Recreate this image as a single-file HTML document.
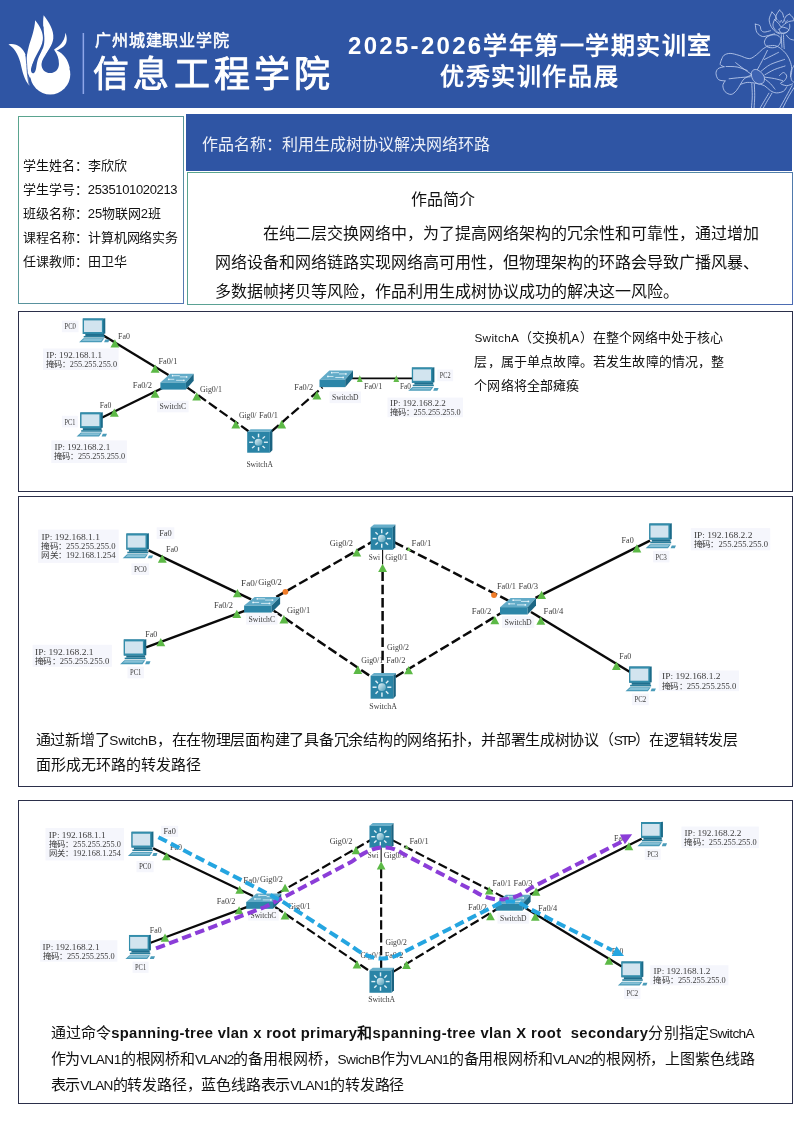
<!DOCTYPE html>
<html lang="zh-CN">
<head>
<meta charset="utf-8">
<title>优秀实训作品展</title>
<style>
*{margin:0;padding:0;box-sizing:border-box}
html,body{width:794px;height:1123px;background:#fff;overflow:hidden}
body{position:relative;font-family:"Liberation Sans",sans-serif;color:#111;will-change:transform}
.abs{position:absolute}
.hdr{left:0;top:0;width:794px;height:108px;background:#2f55a4}
.t{position:absolute;white-space:nowrap;line-height:1;}
.box{position:absolute;border:1px solid #2b2f4a;background:#fff}
.info{left:18px;top:116px;width:166px;height:188px;border:1px solid #5ba993;border-image:linear-gradient(135deg,#5aa58e 0%,#5a9a98 45%,#5577b2 100%) 1;background:#fff}
.title{left:186px;top:114px;width:606px;height:57px;background:#2f55a4}
.intro{left:187px;top:172px;width:606px;height:133px;border:1px solid #5ba99b;border-image:linear-gradient(135deg,#5aa58e 0%,#5a9c9c 50%,#4c6bb3 100%) 1;background:#fff}
svg{position:absolute;left:0;top:0}
</style>
</head>
<body>
<div class="abs hdr"></div>
<div class="abs info"></div>
<div class="abs title"></div>
<div class="abs intro"></div>
<div class="box" style="left:18px;top:311px;width:775px;height:181px"></div>
<div class="box" style="left:18px;top:496px;width:775px;height:291px"></div>
<div class="box" style="left:18px;top:800px;width:775px;height:304px"></div>
<div class="t" style="left:95px;top:33.0px;font-size:16px;color:#fff;font-weight:normal;letter-spacing:0.85px;-webkit-text-stroke:0.55px #fff;">广州城建职业学院</div>
<div class="t" style="left:93.2px;top:57px;font-size:36px;color:#fff;font-weight:normal;letter-spacing:4.2px;-webkit-text-stroke:0.9px #fff;">信息工程学院</div>
<div class="t" style="left:348px;top:33.5px;font-size:24px;color:#fff;font-weight:bold;letter-spacing:1.5px;"><span style="letter-spacing:2.3px">2025-2026</span>学年第一学期实训室</div>
<div class="t" style="left:440px;top:64.5px;font-size:24px;color:#fff;font-weight:bold;letter-spacing:1.6px;">优秀实训作品展</div>
<div class="t" style="left:23.2px;top:158.5px;font-size:13px;color:#111;font-weight:normal;letter-spacing:-0.08px;">学生姓名：李欣欣</div>
<div class="t" style="left:23.2px;top:182.5px;font-size:13px;color:#111;font-weight:normal;letter-spacing:-0.08px;">学生学号：<span style="letter-spacing:-0.35px">2535101020213</span></div>
<div class="t" style="left:23.2px;top:206.5px;font-size:13px;color:#111;font-weight:normal;letter-spacing:-0.08px;">班级名称：25物联网2班</div>
<div class="t" style="left:23.2px;top:230.5px;font-size:13px;color:#111;font-weight:normal;letter-spacing:-0.08px;">课程名称：计算机网络实务</div>
<div class="t" style="left:23.2px;top:254.5px;font-size:13px;color:#111;font-weight:normal;letter-spacing:-0.08px;">任课教师：田卫华</div>
<div class="t" style="left:202px;top:137px;font-size:16px;color:#eef1f8;font-weight:normal;">作品名称：利用生成树协议解决网络环路</div>
<div class="t" style="left:411px;top:192px;font-size:16px;color:#111;font-weight:normal;">作品简介</div>
<div class="t" style="left:263.3px;top:225.5px;font-size:16px;color:#111;font-weight:normal;">在纯二层交换网络中，为了提高网络架构的冗余性和可靠性，通过增加</div>
<div class="t" style="left:215px;top:255px;font-size:16px;color:#111;font-weight:normal;">网络设备和网络链路实现网络高可用性，但物理架构的环路会导致广播风暴、</div>
<div class="t" style="left:215px;top:284.4px;font-size:16px;color:#111;font-weight:normal;">多数据帧拷贝等风险，作品利用生成树协议成功的解决这一风险。</div>
<div class="t" style="left:474.4px;top:330.7px;font-size:13px;color:#111;font-weight:normal;letter-spacing:0.02px;"><span style="font-size:11.83px;letter-spacing:0.30px;">SwitchA</span>（交换机<span style="font-size:11.83px;letter-spacing:0.31px;">A</span>）在整个网络中处于核心</div>
<div class="t" style="left:474.4px;top:354.9px;font-size:13px;color:#111;font-weight:normal;letter-spacing:0.17px;">层，属于单点故障。若发生故障的情况，整</div>
<div class="t" style="left:474.4px;top:378.5px;font-size:13px;color:#111;font-weight:normal;letter-spacing:0.09px;">个网络将全部瘫痪</div>
<div class="t" style="left:35.6px;top:731.5px;font-size:15px;color:#111;font-weight:normal;letter-spacing:-0.26px;">通过新增了<span style="font-size:13.65px;letter-spacing:-0.26px;">SwitchB</span>，在在物理层面构建了具备冗余结构的网络拓扑，并部署生成树协议（<span style="font-size:13.65px;letter-spacing:-1.85px;">STP</span>）在逻辑转发层</div>
<div class="t" style="left:35.6px;top:757.3px;font-size:15px;color:#111;font-weight:normal;letter-spacing:0.02px;">面形成无环路的转发路径</div>
<div class="t" style="left:50.6px;top:1024.9px;font-size:15px;color:#111;font-weight:normal;letter-spacing:0.14px;">通过命令<span style="font-size:14.78px;letter-spacing:0.35px;font-weight:bold;">spanning-tree vlan x root primary</span><b>和</b><span style="font-size:14.78px;letter-spacing:0.44px;font-weight:bold;">spanning-tree vlan X root &nbsp;secondary</span>分别指定<span style="font-size:13.65px;letter-spacing:-0.60px;">SwitchA</span></div>
<div class="t" style="left:50.6px;top:1050.5px;font-size:15px;color:#111;font-weight:normal;letter-spacing:-0.15px;">作为<span style="font-size:13.65px;letter-spacing:-0.57px;">VLAN1</span>的根网桥和<span style="font-size:13.65px;letter-spacing:-0.95px;">VLAN2</span>的备用根网桥，<span style="font-size:13.65px;letter-spacing:-0.47px;">SwichB</span>作为<span style="font-size:13.65px;letter-spacing:-0.85px;">VLAN1</span>的备用根网桥和<span style="font-size:13.65px;letter-spacing:-0.97px;">VLAN2</span>的根网桥，上图紫色线路</div>
<div class="t" style="left:50.6px;top:1077.1px;font-size:15px;color:#111;font-weight:normal;letter-spacing:-0.21px;">表示<span style="font-size:13.65px;letter-spacing:-0.79px;">VLAN</span>的转发路径，蓝色线路表示<span style="font-size:13.65px;letter-spacing:-0.65px;">VLAN1</span>的转发路径</div>
<svg width="794" height="1123" viewBox="0 0 794 1123" font-family="Liberation Serif, serif" fill="#3c3c3c">
<defs>
<linearGradient id="gball" x1="0" y1="0" x2="1" y2="1"><stop offset="0" stop-color="#e4f3f8"/><stop offset="1" stop-color="#4f9db8"/></linearGradient>
<g id="pc">
<polygon points="3.7,0.2 24.2,0.2 26.2,0 26.2,16.6 24.2,17 3.7,17" fill="#1b6b89"/>
<polygon points="3.7,0.2 24.2,0.2 24.2,17 3.7,17" fill="#338dab"/>
<rect x="4.9" y="2.3" width="17.9" height="12.6" fill="#d2e4ef"/>
<rect x="6.2" y="17" width="18.8" height="2.2" fill="#1f6f8e"/><rect x="4.6" y="19.2" width="21" height="1.7" fill="#2a7f9d"/>
<polygon points="0,26 4.3,21.8 25.2,21.8 22.4,26" fill="#4a9bb9"/>
<polygon points="2.6,24.6 5,22.5 23.6,22.5 22,24.6" fill="#86c0d6"/>
<polygon points="26.2,23 30.4,23 29.2,26 25,26" fill="#4a9bb9"/>
</g>
<g id="sw">
<polygon points="0,8.8 10.6,0 36,0 27.6,8.8" fill="#62abc8"/>
<polygon points="0,8.8 27.6,8.8 27.6,15.9 0,15.9" fill="#2c86a8"/>
<polygon points="27.6,8.8 36,0 36,7.1 27.6,15.9" fill="#1c6785"/>
<path d="M9,5.6 L15,5.6 M14,2 L21,2 M17,6.6 L25,6.6 M21,3.2 L28,3.2" stroke="#d9eef6" stroke-width="0.9" fill="none"/>
<circle cx="9" cy="5.6" r="0.9" fill="#eaf6fb"/><circle cx="13.2" cy="2" r="0.9" fill="#eaf6fb"/><circle cx="25.4" cy="6.6" r="0.9" fill="#eaf6fb"/><circle cx="28.4" cy="3.2" r="0.9" fill="#eaf6fb"/>
</g>
<g id="l3">
<polygon points="0,2.7 3.4,0 25,0 22.5,2.7" fill="#66aeca"/>
<polygon points="22.5,2.7 25,0 25,22.8 22.5,25.4" fill="#1b6381"/>
<rect x="0" y="2.7" width="22.5" height="22.7" fill="#2a84a6"/>
<g stroke="#e3f2f8" stroke-width="1.45">
<line x1="16.55" y1="14.05" x2="20.55" y2="14.05"/>
<line x1="15.21" y1="18.01" x2="17.61" y2="20.41"/>
<line x1="11.25" y1="19.35" x2="11.25" y2="23.35"/>
<line x1="7.29" y1="18.01" x2="4.89" y2="20.41"/>
<line x1="5.95" y1="14.05" x2="1.95" y2="14.05"/>
<line x1="7.29" y1="10.09" x2="4.89" y2="7.69"/>
<line x1="11.25" y1="8.75" x2="11.25" y2="4.75"/>
<line x1="15.21" y1="10.09" x2="17.61" y2="7.69"/>
</g>
<circle cx="11.25" cy="14.05" r="3.8" fill="url(#gball)"/>
</g>
<polygon id="tri" points="0,-4.2 4.45,4.1 -4.45,4.1" fill="#5cb946"/>
<polygon id="tris" points="0,-3.4 2.9,3.3 -2.9,3.3" fill="#63bb4b"/>
<polygon id="trit" points="0,-2.2 2.2,1.9 -2.2,1.9" fill="#74c25a"/>
</defs>
<g transform="translate(0,5) scale(0.11338)">
<circle cx="443" cy="612" r="177" fill="#fff"/>
<path d="M262,640 C226,560 226,470 253,370 C273,300 306,220 310,135 C352,185 386,250 378,312 C368,382 305,450 282,540 L300,640 Z" fill="#fff"/>
<path d="M300,620 C300,520 340,450 372,395 C400,345 392,280 384,220 C378,170 380,120 385,90 C430,150 478,220 470,295 C463,355 420,405 392,460 C372,500 364,540 366,600 Z" fill="#fff"/>
<path d="M476,394 C520,362 568,335 578,245 C598,300 590,345 558,368 C535,385 515,395 500,402 C560,430 600,480 616,560 L500,560 Z" fill="#fff"/>
<path d="M75,348 C135,332 205,372 228,445 C243,505 236,600 262,716 C212,660 196,580 180,510 C160,430 120,372 75,348 Z" fill="#fff"/>
<!-- holes -->
<path d="M442,600 C395,600 364,565 366,520 C368,485 395,450 420,415 L452,370 L480,398 C505,430 520,470 520,520 C520,565 490,600 442,600 Z" fill="#2f55a4"/>
<path d="M383,190 C380,260 398,300 358,395" fill="none" stroke="#2f55a4" stroke-width="5"/>
<path d="M352,400 C325,460 286,510 274,560 C268,598 288,610 302,598 C320,585 318,545 330,495 C336,465 352,440 366,405 Z" fill="#2f55a4"/>
<path d="M226,440 C240,505 232,600 260,716" fill="none" stroke="#2f55a4" stroke-width="7"/>
</g>
<rect x="82.6" y="33" width="1.5" height="61" fill="#8ea6e8"/>
<g transform="translate(714,0) scale(0.10076)" fill="none" stroke="#cdd9f5" stroke-width="8.5" stroke-linecap="round" stroke-linejoin="round" opacity="0.9">
<path d="M75,590 C79,583 86,558 100,548 C114,538 135,530 160,530 C185,530 218,541 250,550 C282,559 322,583 350,582 C378,581 398,560 420,545 C442,530 462,504 480,490 C498,476 522,463 530,458"/>
<path d="M75,590 C73,598 58,628 62,640 C66,652 94,658 100,662"/>
<path d="M100,662 C90,665 53,671 40,682 C27,693 19,712 20,730 C21,748 30,778 45,790 C60,802 99,801 110,803"/>
<path d="M110,803 C106,811 88,832 88,850 C88,868 96,896 110,910 C124,924 151,939 170,937 C189,935 207,916 222,900 C237,884 249,858 262,838 C275,818 282,798 300,782 C318,766 357,751 368,745"/>
<path d="M262,838 C273,835 304,820 330,818 C356,816 392,823 420,828 C448,833 477,838 500,850 C523,862 540,888 560,900 C580,912 598,921 620,922 C642,923 673,915 690,905 C707,895 717,869 722,862"/>
<path d="M530,458 C542,457 578,448 600,452 C622,456 640,465 660,480 C680,495 703,517 720,540 C737,563 751,593 760,620 C769,647 772,677 772,700 C772,723 762,750 760,760"/>
<path d="M430,692 C438,677 463,632 480,600 C497,568 522,517 530,500"/>
<path d="M500,590 C515,582 567,557 590,545 C613,533 632,524 640,520"/>
<path d="M470,705 C485,694 522,659 560,640 C598,621 677,598 700,590"/>
<path d="M505,742 C521,733 567,704 600,690 C633,676 688,661 705,655"/>
<path d="M500,780 C510,788 542,812 560,830 C578,848 598,876 605,885"/>
<path d="M500,765 C517,768 570,774 600,780 C630,786 667,797 680,800"/>
<path d="M368,735 C355,726 316,699 290,680 C264,661 228,632 215,622"/>
<path d="M360,762 C343,763 295,767 260,770 C225,773 168,780 150,782"/>
<path d="M330,700 C313,694 265,672 230,665 C195,658 138,661 120,660"/>
<path d="M375,830 C376,850 380,910 380,950 C380,990 373,1048 372,1068"/>
<path d="M400,835 C401,854 404,911 404,950 C404,989 399,1048 398,1068"/>
<path d="M545,925 C538,938 514,976 500,1000 C486,1024 467,1057 460,1068"/>
<path d="M575,925 C568,938 544,976 530,1000 C516,1024 498,1057 492,1068"/>
<path d="M775,850 C765,868 735,924 715,960 C695,996 665,1050 655,1068"/>
<path d="M794,870 C785,885 758,927 740,960 C722,993 694,1050 685,1068"/>
<path d="M668,345 C668,354 669,379 670,400 C671,421 673,458 674,470"/>
<path d="M690,345 C690,356 691,387 692,410 C693,433 696,470 697,482"/>
<path d="M575,120 C570,132 550,167 548,190 C546,213 555,239 565,260 C575,281 596,302 610,315 C624,328 643,332 650,335"/>
<path d="M575,120 C580,125 597,138 605,150 C613,162 622,188 625,195"/>
<path d="M650,100 C645,108 624,133 618,150 C612,167 613,192 612,200"/>
<path d="M650,100 C655,105 673,118 680,130 C687,142 688,163 690,170"/>
<path d="M750,140 C744,143 724,150 715,160 C706,170 698,193 695,200"/>
<path d="M750,140 C755,145 773,160 780,170 C787,180 792,195 794,200"/>
<path d="M600,195 C598,204 583,232 585,250 C587,268 598,287 610,300 C622,313 642,327 660,330 C678,333 705,328 720,320 C735,312 745,293 750,280 C755,267 750,247 750,240"/>
<path d="M600,195 C607,201 629,218 640,230 C651,242 655,263 665,265 C675,267 688,248 700,240 C712,232 724,221 740,215 C756,209 785,207 794,205"/>
<path d="M645,290 C651,287 666,271 680,270 C694,269 720,279 730,285 C740,291 745,298 740,305 C735,312 713,327 700,330 C687,333 669,329 660,322 C651,315 648,295 645,290"/>
<path d="M720,350 C725,356 738,377 750,385 C762,393 787,396 794,398"/>
<path d="M410,240 C412,253 413,300 425,320 C437,340 461,357 480,362 C499,367 520,356 540,352 C560,348 590,338 600,335"/>
<path d="M410,240 C418,242 445,245 455,255 C465,265 460,290 468,300 C476,310 485,317 500,318 C515,319 550,307 560,305"/>
<path d="M520,372 C517,380 498,404 500,420 C502,436 513,456 530,465 C547,474 580,476 600,472 C620,468 640,455 650,440 C660,425 667,398 662,382 C657,366 637,352 620,347 C603,342 577,346 560,350 C543,354 527,368 520,372"/>
<path d="M794,650 C789,661 766,692 762,715 C758,738 763,773 768,790 C773,807 790,813 794,818"/>
<path d="M650,750 C657,745 678,719 690,720 C702,721 720,742 722,755 C724,768 710,788 700,800 C690,812 657,820 660,828 C663,836 700,849 720,850 C740,851 770,835 780,832"/>
<path d="M370,742 C368,726 374,711 382,702 C390,693 405,687 420,690 C435,693 457,707 470,720 C483,733 497,753 500,770 C503,787 500,810 490,820 C480,830 456,835 440,832 C424,829 404,815 392,800 C380,785 372,758 370,742 Z" fill="#3f64b3"/>
<path d="M640,205 L655,225 L668,200 L682,228 L698,198 L712,226 L730,200" stroke-width="6"/>
</g><line x1="103" y1="335.2" x2="168.5" y2="375" stroke="#0a0a0a" stroke-width="2.3"/>
<line x1="101.7" y1="417.8" x2="162" y2="388.3" stroke="#0a0a0a" stroke-width="2.3"/>
<line x1="187.4" y1="387.6" x2="248.5" y2="431.2" stroke="#0a0a0a" stroke-width="2.3" stroke-dasharray="9.6 3.6"/>
<line x1="271.5" y1="431.4" x2="322.5" y2="387.3" stroke="#0a0a0a" stroke-width="2.3" stroke-dasharray="9.6 3.6"/>
<line x1="352" y1="378.4" x2="413" y2="378.4" stroke="#0a0a0a" stroke-width="1.8"/>
<rect x="43" y="348.5" width="75.6" height="21.4" fill="#f5f6fc"/>
<text x="46.3" y="358.2" font-size="8.4" textLength="55.8" lengthAdjust="spacingAndGlyphs">IP: 192.168.1.1</text>
<text x="46.3" y="367.0" font-size="8.4" textLength="70.7" lengthAdjust="spacingAndGlyphs">掩码：255.255.255.0</text>
<rect x="51.3" y="440.4" width="75.6" height="22.6" fill="#f5f6fc"/>
<text x="54.4" y="449.6" font-size="8.4" textLength="55.8" lengthAdjust="spacingAndGlyphs">IP: 192.168.2.1</text>
<text x="54.4" y="458.9" font-size="8.4" textLength="70.7" lengthAdjust="spacingAndGlyphs">掩码：255.255.255.0</text>
<rect x="387.5" y="397.6" width="75.5" height="19.6" fill="#f5f6fc"/>
<text x="390" y="405.8" font-size="8.4" textLength="55.8" lengthAdjust="spacingAndGlyphs">IP: 192.168.2.2</text>
<text x="390" y="414.6" font-size="8.4" textLength="70.7" lengthAdjust="spacingAndGlyphs">掩码：255.255.255.0</text>
<rect x="61.9" y="320.6" width="16.6" height="11.6" fill="#f5f6fc"/>
<text x="64.4" y="329.3" font-size="8.4" textLength="11.6" lengthAdjust="spacingAndGlyphs">PC0</text>
<rect x="61.9" y="415.8" width="15.9" height="11.6" fill="#f5f6fc"/>
<text x="64.4" y="424.5" font-size="8.4" textLength="10.9" lengthAdjust="spacingAndGlyphs">PC1</text>
<rect x="437.3" y="369.6" width="15.8" height="11.6" fill="#f5f6fc"/>
<text x="439.8" y="378.3" font-size="8.4" textLength="10.8" lengthAdjust="spacingAndGlyphs">PC2</text>
<use href="#pc" transform="translate(79.1,318.3) scale(1,0.92)"/>
<use href="#pc" transform="translate(76.6,412.2) scale(1,0.935)"/>
<use href="#pc" transform="translate(408.2,367.3) scale(1,0.905)"/>
<use href="#sw" transform="translate(160.4,373.7) scale(0.925,1.0)"/>
<use href="#sw" transform="translate(319.5,370.6) scale(0.93,1.04)"/>
<use href="#l3" transform="translate(247.2,429.3) scale(1.008,0.922)"/>
<use href="#tri" x="114.9" y="343.5"/>
<use href="#tri" x="155.1" y="368.7"/>
<use href="#tri" x="155.1" y="393.6"/>
<use href="#tri" x="114.3" y="412.7"/>
<use href="#tri" x="196.7" y="396.4"/>
<use href="#tri" x="235.8" y="424.5"/>
<use href="#tri" x="281.7" y="424.3"/>
<use href="#tri" x="316.9" y="395.3"/>
<use href="#tris" x="359.8" y="378.7"/>
<use href="#tris" x="396.3" y="378.7"/>
<text x="118.1" y="338.8" font-size="8.4" textLength="11.8" lengthAdjust="spacingAndGlyphs">Fa0</text>
<text x="99.7" y="407.6" font-size="8.4" textLength="11.6" lengthAdjust="spacingAndGlyphs">Fa0</text>
<text x="400" y="388.6" font-size="8.4" textLength="10.9" lengthAdjust="spacingAndGlyphs">Fa0</text>
<text x="158.4" y="364.0" font-size="8.4" textLength="18.9" lengthAdjust="spacingAndGlyphs">Fa0/1</text>
<text x="132.7" y="387.9" font-size="8.4" textLength="19.4" lengthAdjust="spacingAndGlyphs">Fa0/2</text>
<text x="200" y="391.7" font-size="8.4" textLength="21.9" lengthAdjust="spacingAndGlyphs">Gig0/1</text>
<text x="238.9" y="418.4" font-size="8.4" textLength="17.6" lengthAdjust="spacingAndGlyphs">Gig0/</text>
<text x="259" y="418.4" font-size="8.4" textLength="18.9" lengthAdjust="spacingAndGlyphs">Fa0/1</text>
<text x="294.3" y="389.9" font-size="8.4" textLength="18.9" lengthAdjust="spacingAndGlyphs">Fa0/2</text>
<text x="364" y="388.6" font-size="8.4" textLength="18.4" lengthAdjust="spacingAndGlyphs">Fa0/1</text>
<rect x="157.1" y="400.7" width="31.5" height="11.6" fill="#f5f6fc"/>
<text x="159.6" y="409.4" font-size="8.4" textLength="26.5" lengthAdjust="spacingAndGlyphs">SwitchC</text>
<text x="246.4" y="466.7" font-size="8.4" textLength="26.5" lengthAdjust="spacingAndGlyphs">SwitchA</text>
<rect x="329.6" y="391.5" width="31.4" height="11.6" fill="#f5f6fc"/>
<text x="332.1" y="400.2" font-size="8.4" textLength="26.4" lengthAdjust="spacingAndGlyphs">SwitchD</text>
<line x1="148.6" y1="550.3" x2="251.1" y2="599.4" stroke="#0a0a0a" stroke-width="2.5"/>
<line x1="146" y1="647.4" x2="246" y2="610.3" stroke="#0a0a0a" stroke-width="2.5"/>
<line x1="276.3" y1="596.9" x2="371.5" y2="542.2" stroke="#0a0a0a" stroke-width="2.5" stroke-dasharray="9.6 3.6"/>
<line x1="273.8" y1="610.7" x2="370.5" y2="676.3" stroke="#0a0a0a" stroke-width="2.5" stroke-dasharray="9.6 3.6"/>
<line x1="382.6" y1="549.5" x2="382.6" y2="564.5" stroke="#0a0a0a" stroke-width="1.1"/>
<line x1="382.6" y1="571.5" x2="382.6" y2="674" stroke="#0a0a0a" stroke-width="2.5" stroke-dasharray="9.6 3.6"/>
<line x1="394.5" y1="542.3" x2="508.3" y2="600.6" stroke="#0a0a0a" stroke-width="2.5" stroke-dasharray="9.6 3.6"/>
<line x1="395.3" y1="677" x2="501.5" y2="612.8" stroke="#0a0a0a" stroke-width="2.5" stroke-dasharray="9.6 3.6"/>
<line x1="535.5" y1="597.8" x2="650" y2="540.7" stroke="#0a0a0a" stroke-width="2.5"/>
<line x1="531" y1="612" x2="629.5" y2="671.8" stroke="#0a0a0a" stroke-width="2.5"/>
<rect x="38.1" y="529.6" width="80.6" height="33.3" fill="#f5f6fc"/>
<text x="41.4" y="539.8" font-size="8.4" textLength="58.5" lengthAdjust="spacingAndGlyphs">IP: 192.168.1.1</text>
<text x="41.4" y="549.4" font-size="8.4" textLength="74.1" lengthAdjust="spacingAndGlyphs">掩码：255.255.255.0</text>
<text x="41.4" y="558.4" font-size="8.4" textLength="74.1" lengthAdjust="spacingAndGlyphs">网关：192.168.1.254</text>
<rect x="32.6" y="644.8" width="79.3" height="22.0" fill="#f5f6fc"/>
<text x="35.1" y="654.5" font-size="8.4" textLength="58.5" lengthAdjust="spacingAndGlyphs">IP: 192.168.2.1</text>
<text x="35.1" y="663.9" font-size="8.4" textLength="74.1" lengthAdjust="spacingAndGlyphs">掩码：255.255.255.0</text>
<rect x="690.8" y="528.1" width="79.4" height="22.2" fill="#f5f6fc"/>
<text x="693.9" y="538.1" font-size="8.4" textLength="58.5" lengthAdjust="spacingAndGlyphs">IP: 192.168.2.2</text>
<text x="693.9" y="547.4" font-size="8.4" textLength="74.1" lengthAdjust="spacingAndGlyphs">掩码：255.255.255.0</text>
<rect x="658.8" y="670.5" width="80.2" height="20.6" fill="#f5f6fc"/>
<text x="662.1" y="679.1" font-size="8.4" textLength="58.5" lengthAdjust="spacingAndGlyphs">IP: 192.168.1.2</text>
<text x="662.1" y="688.5" font-size="8.4" textLength="74.1" lengthAdjust="spacingAndGlyphs">掩码：255.255.255.0</text>
<rect x="131.5" y="563.4" width="17.6" height="11.6" fill="#f5f6fc"/>
<text x="134" y="572.1" font-size="8.4" textLength="12.6" lengthAdjust="spacingAndGlyphs">PC0</text>
<rect x="127.5" y="666.7" width="16.4" height="11.6" fill="#f5f6fc"/>
<text x="130" y="675.4" font-size="8.4" textLength="11.4" lengthAdjust="spacingAndGlyphs">PC1</text>
<rect x="653.1" y="550.8" width="16.3" height="11.6" fill="#f5f6fc"/>
<text x="655.6" y="559.5" font-size="8.4" textLength="11.3" lengthAdjust="spacingAndGlyphs">PC3</text>
<rect x="631.9" y="693.6" width="16.8" height="11.6" fill="#f5f6fc"/>
<text x="634.4" y="702.3" font-size="8.4" textLength="11.8" lengthAdjust="spacingAndGlyphs">PC2</text>
<use href="#pc" transform="translate(122.7,533.3) scale(1,0.96)"/>
<use href="#pc" transform="translate(120.1,639.2) scale(1,0.96)"/>
<use href="#pc" transform="translate(645.6,523.3) scale(1,0.96)"/>
<use href="#pc" transform="translate(625.5,666.4) scale(1,0.96)"/>
<use href="#sw" transform="translate(244.1,596.9) scale(1,0.985)"/>
<use href="#sw" transform="translate(500,598.1) scale(1,1.03)"/>
<use href="#l3" transform="translate(370.6,524.6) scale(0.99,0.992)"/>
<use href="#l3" transform="translate(370.6,673) scale(1.008,1.012)"/>
<circle cx="285.4" cy="591.8" r="2.9" fill="#f07c28"/>
<circle cx="494" cy="595.1" r="2.9" fill="#f07c28"/>
<use href="#tri" x="162.3" y="558.7"/>
<use href="#tri" x="237.4" y="593.1"/>
<use href="#tri" x="236.8" y="614"/>
<use href="#tri" x="283.9" y="619.3"/>
<use href="#tri" x="160.8" y="642.2"/>
<use href="#tri" x="356.8" y="552.4"/>
<use href="#tri" x="382.6" y="568"/>
<use href="#tri" x="357.8" y="669.8"/>
<use href="#tri" x="408.6" y="670.1"/>
<use href="#trit" x="408.8" y="549"/>
<use href="#tri" x="541.6" y="595"/>
<use href="#tri" x="494.8" y="620.2"/>
<use href="#tri" x="540.8" y="620.6"/>
<use href="#tri" x="636.9" y="548.4"/>
<use href="#tri" x="616.4" y="665.8"/>
<rect x="156.7" y="527.3" width="17.6" height="11.6" fill="#f5f6fc"/>
<text x="159.2" y="536.0" font-size="8.4" textLength="12.6" lengthAdjust="spacingAndGlyphs">Fa0</text>
<text x="166" y="551.9" font-size="8.4" textLength="12.1" lengthAdjust="spacingAndGlyphs">Fa0</text>
<text x="145.2" y="636.9" font-size="8.4" textLength="12.1" lengthAdjust="spacingAndGlyphs">Fa0</text>
<text x="621.6" y="543.1" font-size="8.4" textLength="12.1" lengthAdjust="spacingAndGlyphs">Fa0</text>
<text x="619.3" y="659.0" font-size="8.4" textLength="11.8" lengthAdjust="spacingAndGlyphs">Fa0</text>
<text x="241.1" y="586.2" font-size="8.4" textLength="16.3" lengthAdjust="spacingAndGlyphs">Fa0/</text>
<text x="258.2" y="585.4" font-size="8.4" textLength="23.7" lengthAdjust="spacingAndGlyphs">Gig0/2</text>
<text x="213.9" y="608.1" font-size="8.4" textLength="19.1" lengthAdjust="spacingAndGlyphs">Fa0/2</text>
<text x="286.9" y="613.1" font-size="8.4" textLength="23.3" lengthAdjust="spacingAndGlyphs">Gig0/1</text>
<text x="329.8" y="546.1" font-size="8.4" textLength="23.2" lengthAdjust="spacingAndGlyphs">Gig0/2</text>
<text x="368.8" y="560.3" font-size="8.4" textLength="11.1" lengthAdjust="spacingAndGlyphs">Swi</text>
<text x="385.2" y="560.3" font-size="8.4" textLength="22.7" lengthAdjust="spacingAndGlyphs">Gig0/1</text>
<text x="411.6" y="545.6" font-size="8.4" textLength="19.7" lengthAdjust="spacingAndGlyphs">Fa0/1</text>
<text x="387" y="650.0" font-size="8.4" textLength="21.9" lengthAdjust="spacingAndGlyphs">Gig0/2</text>
<text x="361.3" y="663.4" font-size="8.4" textLength="21.9" lengthAdjust="spacingAndGlyphs">Gig0/1</text>
<text x="386.2" y="663.4" font-size="8.4" textLength="19.2" lengthAdjust="spacingAndGlyphs">Fa0/2</text>
<text x="497" y="589.2" font-size="8.4" textLength="18.9" lengthAdjust="spacingAndGlyphs">Fa0/1</text>
<text x="518.4" y="589.2" font-size="8.4" textLength="19.6" lengthAdjust="spacingAndGlyphs">Fa0/3</text>
<text x="471.8" y="613.8" font-size="8.4" textLength="19.4" lengthAdjust="spacingAndGlyphs">Fa0/2</text>
<text x="543.6" y="614.4" font-size="8.4" textLength="19.6" lengthAdjust="spacingAndGlyphs">Fa0/4</text>
<rect x="246.1" y="613.0" width="31.4" height="11.6" fill="#f5f6fc"/>
<text x="248.6" y="621.7" font-size="8.4" textLength="26.4" lengthAdjust="spacingAndGlyphs">SwitchC</text>
<text x="369.3" y="708.7" font-size="8.4" textLength="27.7" lengthAdjust="spacingAndGlyphs">SwitchA</text>
<rect x="502.0" y="616.2" width="32.2" height="11.6" fill="#f5f6fc"/>
<text x="504.5" y="624.9" font-size="8.4" textLength="27.2" lengthAdjust="spacingAndGlyphs">SwitchD</text>
<g transform="matrix(0.9744 0 0 0.9744 8.34 311.94)">
<line x1="148.6" y1="550.3" x2="251.1" y2="599.4" stroke="#0a0a0a" stroke-width="2.25"/>
<line x1="146" y1="647.4" x2="246" y2="610.3" stroke="#0a0a0a" stroke-width="2.25"/>
<line x1="276.3" y1="596.9" x2="371.5" y2="542.2" stroke="#0a0a0a" stroke-width="2.25" stroke-dasharray="9.6 3.6"/>
<line x1="273.8" y1="610.7" x2="370.5" y2="676.3" stroke="#0a0a0a" stroke-width="2.25" stroke-dasharray="9.6 3.6"/>
<line x1="382.6" y1="549.5" x2="382.6" y2="564.5" stroke="#0a0a0a" stroke-width="1.1"/>
<line x1="382.6" y1="571.5" x2="382.6" y2="674" stroke="#0a0a0a" stroke-width="2.25" stroke-dasharray="9.6 3.6"/>
<line x1="394.5" y1="542.3" x2="508.3" y2="600.6" stroke="#0a0a0a" stroke-width="2.25" stroke-dasharray="9.6 3.6"/>
<line x1="395.3" y1="677" x2="501.5" y2="612.8" stroke="#0a0a0a" stroke-width="2.25" stroke-dasharray="9.6 3.6"/>
<line x1="535.5" y1="597.8" x2="650" y2="540.7" stroke="#0a0a0a" stroke-width="2.25"/>
<line x1="531" y1="612" x2="629.5" y2="671.8" stroke="#0a0a0a" stroke-width="2.25"/>
<rect x="38.1" y="529.6" width="80.6" height="33.3" fill="#f5f6fc"/>
<text x="41.4" y="539.8" font-size="8.4" textLength="58.5" lengthAdjust="spacingAndGlyphs">IP: 192.168.1.1</text>
<text x="41.4" y="549.4" font-size="8.4" textLength="74.1" lengthAdjust="spacingAndGlyphs">掩码：255.255.255.0</text>
<text x="41.4" y="558.4" font-size="8.4" textLength="74.1" lengthAdjust="spacingAndGlyphs">网关：192.168.1.254</text>
<rect x="32.6" y="644.8" width="79.3" height="22.0" fill="#f5f6fc"/>
<text x="35.1" y="654.5" font-size="8.4" textLength="58.5" lengthAdjust="spacingAndGlyphs">IP: 192.168.2.1</text>
<text x="35.1" y="663.9" font-size="8.4" textLength="74.1" lengthAdjust="spacingAndGlyphs">掩码：255.255.255.0</text>
<rect x="690.8" y="528.1" width="79.4" height="22.2" fill="#f5f6fc"/>
<text x="693.9" y="538.1" font-size="8.4" textLength="58.5" lengthAdjust="spacingAndGlyphs">IP: 192.168.2.2</text>
<text x="693.9" y="547.4" font-size="8.4" textLength="74.1" lengthAdjust="spacingAndGlyphs">掩码：255.255.255.0</text>
<rect x="658.8" y="670.5" width="80.2" height="20.6" fill="#f5f6fc"/>
<text x="662.1" y="679.1" font-size="8.4" textLength="58.5" lengthAdjust="spacingAndGlyphs">IP: 192.168.1.2</text>
<text x="662.1" y="688.5" font-size="8.4" textLength="74.1" lengthAdjust="spacingAndGlyphs">掩码：255.255.255.0</text>
<rect x="131.5" y="563.4" width="17.6" height="11.6" fill="#f5f6fc"/>
<text x="134" y="572.1" font-size="8.4" textLength="12.6" lengthAdjust="spacingAndGlyphs">PC0</text>
<rect x="127.5" y="666.7" width="16.4" height="11.6" fill="#f5f6fc"/>
<text x="130" y="675.4" font-size="8.4" textLength="11.4" lengthAdjust="spacingAndGlyphs">PC1</text>
<rect x="653.1" y="550.8" width="16.3" height="11.6" fill="#f5f6fc"/>
<text x="655.6" y="559.5" font-size="8.4" textLength="11.3" lengthAdjust="spacingAndGlyphs">PC3</text>
<rect x="631.9" y="693.6" width="16.8" height="11.6" fill="#f5f6fc"/>
<text x="634.4" y="702.3" font-size="8.4" textLength="11.8" lengthAdjust="spacingAndGlyphs">PC2</text>
<use href="#pc" transform="translate(122.7,533.3) scale(1,0.96)"/>
<use href="#pc" transform="translate(120.1,639.2) scale(1,0.96)"/>
<use href="#pc" transform="translate(645.6,523.3) scale(1,0.96)"/>
<use href="#pc" transform="translate(625.5,666.4) scale(1,0.96)"/>
<use href="#sw" transform="translate(244.1,596.9) scale(1,0.985)"/>
<use href="#sw" transform="translate(500,598.1) scale(1,1.03)"/>
<use href="#l3" transform="translate(370.6,524.6) scale(0.99,0.992)"/>
<use href="#l3" transform="translate(370.6,673) scale(1.008,1.012)"/>
<use href="#tri" x="284.0" y="591"/>
<use href="#tri" x="493.5" y="593.8"/>
<use href="#tri" x="162.3" y="558.7"/>
<use href="#tri" x="237.4" y="593.1"/>
<use href="#tri" x="236.8" y="614"/>
<use href="#tri" x="283.9" y="619.3"/>
<use href="#tri" x="160.8" y="642.2"/>
<use href="#tri" x="356.8" y="552.4"/>
<use href="#tri" x="382.6" y="568"/>
<use href="#tri" x="357.8" y="669.8"/>
<use href="#tri" x="408.6" y="670.1"/>
<use href="#trit" x="408.8" y="549"/>
<use href="#tri" x="541.6" y="595"/>
<use href="#tri" x="494.8" y="620.2"/>
<use href="#tri" x="540.8" y="620.6"/>
<use href="#tri" x="636.9" y="548.4"/>
<use href="#tri" x="616.4" y="665.8"/>
<rect x="156.7" y="527.3" width="17.6" height="11.6" fill="#f5f6fc"/>
<text x="159.2" y="536.0" font-size="8.4" textLength="12.6" lengthAdjust="spacingAndGlyphs">Fa0</text>
<text x="166" y="551.9" font-size="8.4" textLength="12.1" lengthAdjust="spacingAndGlyphs">Fa0</text>
<text x="145.2" y="636.9" font-size="8.4" textLength="12.1" lengthAdjust="spacingAndGlyphs">Fa0</text>
<text x="621.6" y="543.1" font-size="8.4" textLength="12.1" lengthAdjust="spacingAndGlyphs">Fa0</text>
<text x="619.3" y="659.0" font-size="8.4" textLength="11.8" lengthAdjust="spacingAndGlyphs">Fa0</text>
<text x="241.1" y="586.2" font-size="8.4" textLength="16.3" lengthAdjust="spacingAndGlyphs">Fa0/</text>
<text x="258.2" y="585.4" font-size="8.4" textLength="23.7" lengthAdjust="spacingAndGlyphs">Gig0/2</text>
<text x="213.9" y="608.1" font-size="8.4" textLength="19.1" lengthAdjust="spacingAndGlyphs">Fa0/2</text>
<text x="286.9" y="613.1" font-size="8.4" textLength="23.3" lengthAdjust="spacingAndGlyphs">Gig0/1</text>
<text x="329.8" y="546.1" font-size="8.4" textLength="23.2" lengthAdjust="spacingAndGlyphs">Gig0/2</text>
<text x="368.8" y="560.3" font-size="8.4" textLength="11.1" lengthAdjust="spacingAndGlyphs">Swi</text>
<text x="385.2" y="560.3" font-size="8.4" textLength="22.7" lengthAdjust="spacingAndGlyphs">Gig0/1</text>
<text x="411.6" y="545.6" font-size="8.4" textLength="19.7" lengthAdjust="spacingAndGlyphs">Fa0/1</text>
<text x="387" y="650.0" font-size="8.4" textLength="21.9" lengthAdjust="spacingAndGlyphs">Gig0/2</text>
<text x="361.3" y="663.4" font-size="8.4" textLength="21.9" lengthAdjust="spacingAndGlyphs">Gig0/1</text>
<text x="386.2" y="663.4" font-size="8.4" textLength="19.2" lengthAdjust="spacingAndGlyphs">Fa0/2</text>
<text x="497" y="589.2" font-size="8.4" textLength="18.9" lengthAdjust="spacingAndGlyphs">Fa0/1</text>
<text x="518.4" y="589.2" font-size="8.4" textLength="19.6" lengthAdjust="spacingAndGlyphs">Fa0/3</text>
<text x="471.8" y="613.8" font-size="8.4" textLength="19.4" lengthAdjust="spacingAndGlyphs">Fa0/2</text>
<text x="543.6" y="614.4" font-size="8.4" textLength="19.6" lengthAdjust="spacingAndGlyphs">Fa0/4</text>
<rect x="246.1" y="613.0" width="31.4" height="11.6" fill="#f5f6fc"/>
<text x="248.6" y="621.7" font-size="8.4" textLength="26.4" lengthAdjust="spacingAndGlyphs">SwitchC</text>
<text x="369.3" y="708.7" font-size="8.4" textLength="27.7" lengthAdjust="spacingAndGlyphs">SwitchA</text>
<rect x="502.0" y="616.2" width="32.2" height="11.6" fill="#f5f6fc"/>
<text x="504.5" y="624.9" font-size="8.4" textLength="27.2" lengthAdjust="spacingAndGlyphs">SwitchD</text>
</g>
<path d="M156,948.4 L265,907 L352,861.5 Q381,838 403,853.8 L475.3,891.8 Q503,909 530.8,888 L623,841" fill="none" stroke="#8b3dd8" stroke-width="4.0" stroke-dasharray="9.5 4.5" stroke-linejoin="round"/>
<polygon points="632.2,834.3 624.9,844.2 619.9,834.4" fill="#8b3dd8"/>
<path d="M158.4,837.2 L281,900.6 L352,946.5 Q377,966 400,954 L494.8,905.8 Q512,896 528,908 L612,950.2" fill="none" stroke="#25a5e0" stroke-width="4.0" stroke-dasharray="9.5 4.5" stroke-linejoin="round"/>
<polygon points="624.0,956.0 611.7,956.1 616.5,946.2" fill="#25a5e0"/>
</svg>
</body>
</html>
